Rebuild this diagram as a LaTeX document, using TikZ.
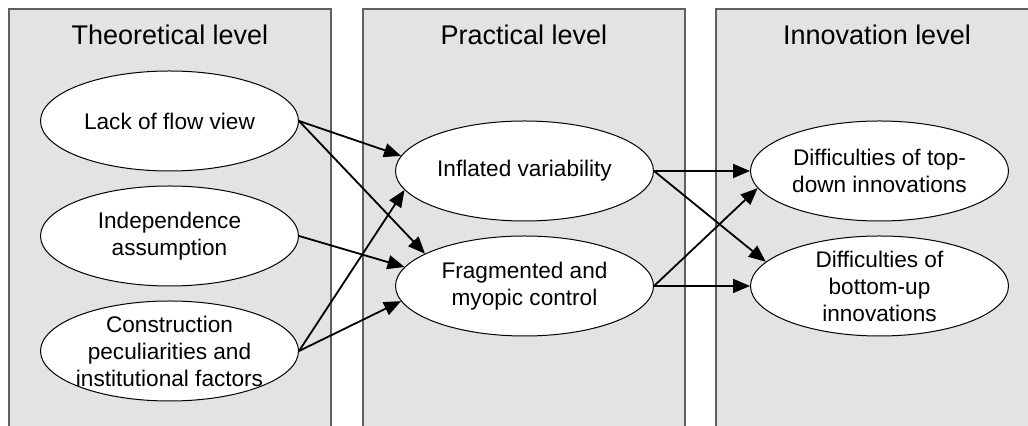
\documentclass[tikz,border=0pt]{standalone}
\usepackage{fontspec}
\setmainfont{Liberation Sans}
\usepackage{tikz}
\usetikzlibrary{shapes.geometric, arrows.meta, positioning}
\definecolor{pfill}{HTML}{E3E3E3}
\definecolor{pedge}{HTML}{5F5F5F}
\tikzstyle{panel} = [rectangle, minimum width = 161pt, minimum height = 216pt, draw = pedge, line width = 0.7pt, fill = pfill]
\tikzstyle{title} = [inner sep = 0pt, font = \fontsize{13.5pt}{16pt}\selectfont]
\tikzstyle{issue} = [ellipse, draw, line width = 0.5pt, fill = white, minimum width = 129pt, minimum height = 50pt, inner xsep = -2pt, inner ysep = -2pt, align = center, font = \fontsize{11.3pt}{13.5pt}\selectfont]
\tikzstyle{link} = [line width = 0.9pt, ->, >={Triangle[length=8.5pt, width=7pt]}]

\begin{document}
\begin{tikzpicture}[x = 0.5pt, y = -0.5pt, node distance = 7pt and 48pt]
  \clip (0,0) rectangle (1028,426);
  % the three levels
  \node (theo) [panel] at (170,225) {};
  \node (prac) [panel] at (524,225) {};
  \node (inno) [panel] at (877,225) {};
  \node (ttheo) [title, below = 8pt of theo.north] {Theoretical level};
  \node (tprac) [title, below = 8pt of prac.north] {Practical level};
  \node (tinno) [title, below = 8pt of inno.north] {Innovation level};
  % causes
  \node (lack) [issue] at (169.5,121) {Lack of flow view};
  \node (indep) [issue, below = of lack] {Independence\\assumption};
  \node (constr) [issue, below = of indep] {Construction\\peculiarities and\\institutional factors};
  % effects
  \node (infl) [issue, right = of lack, yshift = -25pt] {Inflated variability};
  \node (frag) [issue, below = of infl] {Fragmented and\\myopic control};
  \node (topdown) [issue, right = of infl] {Difficulties of top-\\down innovations};
  \node (botup) [issue, below = of topdown] {Difficulties of\\bottom-up\\innovations};
  \draw [link] (lack.east) -- (infl.173);
  \draw [link] (lack.east) -- (frag.162);
  \draw [link] (indep.east) -- (frag.171);
  \draw [link] (constr.east) -- (infl.189);
  \draw [link] (constr.east) -- (frag.187);
  \draw [link] (infl.east) -- (topdown.west);
  \draw [link] (infl.east) -- (botup.168);
  \draw [link] (frag.east) -- (topdown.188);
  \draw [link] (frag.east) -- (botup.west);
\end{tikzpicture}
\end{document}
